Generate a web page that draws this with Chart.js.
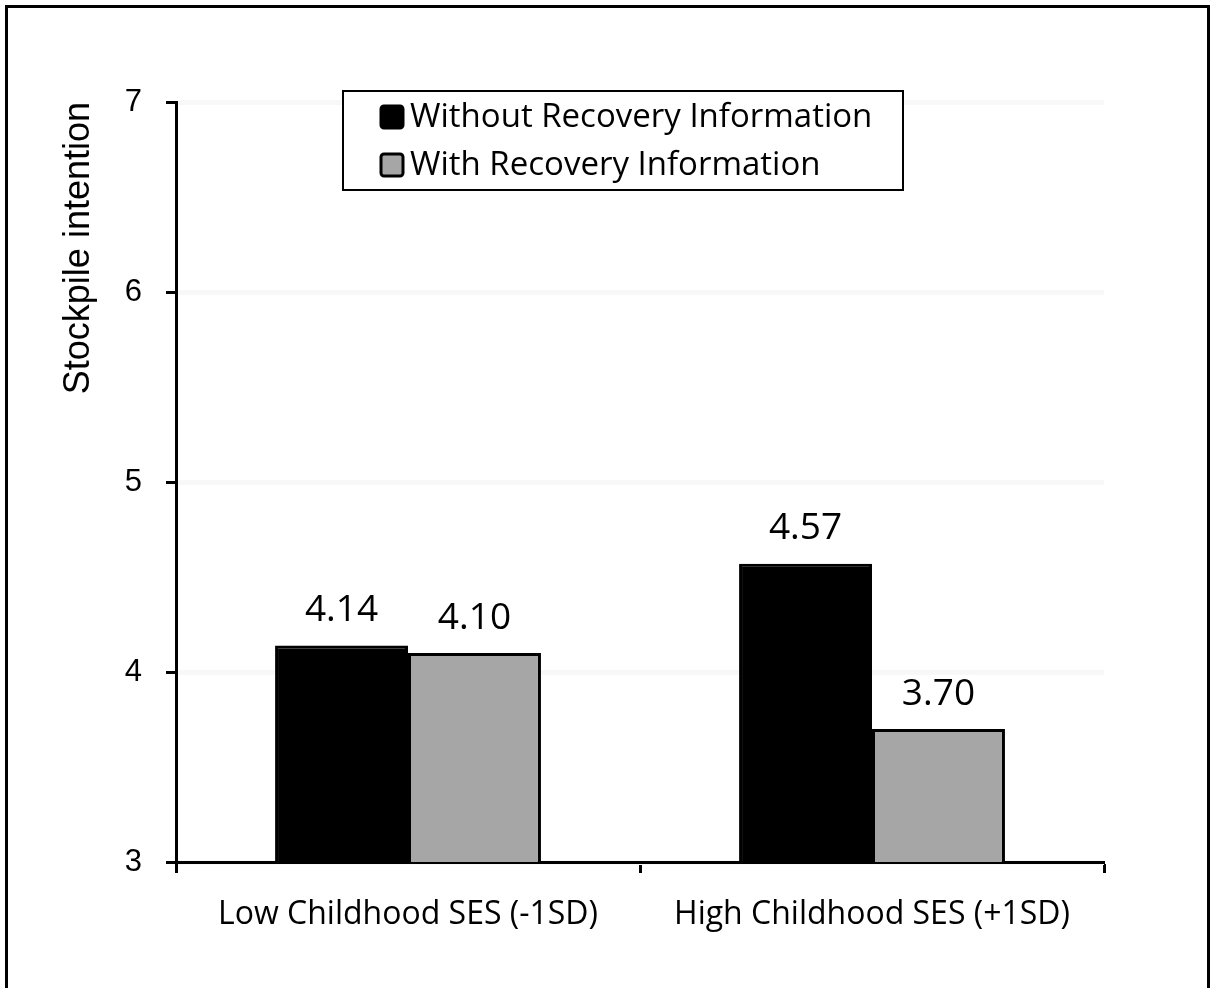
<!DOCTYPE html>
<html>
<head>
<meta charset="utf-8">
<title>Stockpile intention by childhood SES</title>
<script src="https://cdn.jsdelivr.net/npm/chart.js@4.4.1/dist/chart.umd.min.js"></script>
<style>
  html, body { margin: 0; padding: 0; background: #ffffff; }
  #wrap { width: 1210px; height: 988px; position: relative; }
</style>
</head>
<body>
<div id="wrap"><canvas id="chart" width="1210" height="988"></canvas></div>
<script>
// Data
const categories = ['Low Childhood SES (-1SD)', 'High Childhood SES (+1SD)'];
const seriesNames = ['Without Recovery Information', 'With Recovery Information'];
const withoutRecovery = [4.14, 4.57];
const withRecovery = [4.10, 3.70];
const yTickValues = [3, 4, 5, 6, 7];
const yTitle = 'Stockpile intention';

const SANS_C = '"Open Sans", "Noto Sans", sans-serif';
const SANS_A = '"Liberation Sans", Arial, sans-serif';

// Frame around the whole figure (left, top and right edges)
const framePlugin = {
  id: 'frame',
  afterDraw(chart) {
    const ctx = chart.ctx;
    ctx.save();
    ctx.strokeStyle = '#000';
    ctx.lineWidth = 3;
    ctx.beginPath();
    ctx.moveTo(6.5, 990);
    ctx.lineTo(6.5, 6.5);
    ctx.lineTo(1208.5, 6.5);
    ctx.lineTo(1208.5, 990);
    ctx.stroke();
    ctx.restore();
  }
};

// Value labels above each bar
const valueLabelPlugin = {
  id: 'valueLabels',
  afterDatasetsDraw(chart) {
    const ctx = chart.ctx;
    ctx.save();
    ctx.font = '37px ' + SANS_C;
    ctx.fillStyle = '#000';
    ctx.textAlign = 'center';
    ctx.textBaseline = 'middle';
    chart.data.datasets.forEach((ds, i) => {
      const meta = chart.getDatasetMeta(i);
      meta.data.forEach((bar, j) => {
        ctx.fillText(ds.data[j].toFixed(2), bar.x, bar.y - 35);
      });
    });
    ctx.restore();
  }
};

// Boxed legend inside the plot area
const boxLegendPlugin = {
  id: 'boxLegend',
  afterDraw(chart) {
    const ctx = chart.ctx;
    const box = { x: 343, y: 91, w: 560, h: 99 };
    ctx.save();
    ctx.fillStyle = '#fff';
    ctx.fillRect(box.x, box.y, box.w, box.h);
    ctx.strokeStyle = '#000';
    ctx.lineWidth = 2;
    ctx.strokeRect(box.x, box.y, box.w, box.h);
    ctx.font = '33px ' + SANS_C;
    ctx.textBaseline = 'middle';
    ctx.textAlign = 'left';
    const rows = [117, 165];
    chart.data.datasets.forEach((ds, i) => {
      const cy = rows[i];
      const mx = 381, ms = 22;
      ctx.beginPath();
      ctx.roundRect(mx, cy - ms / 2, ms, ms, 3);
      ctx.fillStyle = ds.backgroundColor;
      ctx.fill();
      ctx.lineWidth = 3;
      ctx.strokeStyle = '#000';
      ctx.stroke();
      ctx.fillStyle = '#000';
      ctx.fillText(ds.label, 410, cy + 1);
    });
    ctx.restore();
  }
};

new Chart(document.getElementById('chart'), {
  type: 'bar',
  data: {
    labels: categories,
    datasets: [
      {
        label: seriesNames[0],
        data: withoutRecovery,
        backgroundColor: '#000000',
        borderColor: '#000000',
        borderWidth: 3
      },
      {
        label: seriesNames[1],
        data: withRecovery,
        backgroundColor: '#a6a6a6',
        borderColor: '#000000',
        borderWidth: 3
      }
    ]
  },
  options: {
    responsive: false,
    animation: false,
    devicePixelRatio: 1,
    categoryPercentage: 0.573,
    barPercentage: 1.0,
    layout: { padding: { top: 102, right: 106, left: 0, bottom: 0 } },
    plugins: {
      legend: { display: false },
      tooltip: { enabled: false }
    },
    scales: {
      x: {
        afterFit(scale) { scale.height = 126; },
        grid: {
          offset: true,
          drawOnChartArea: false,
          tickLength: 11,
          tickColor: '#000',
          tickWidth: 3
        },
        border: { color: '#000', width: 3 },
        ticks: {
          color: '#000',
          font: { family: SANS_C, size: 32 },
          padding: 23
        }
      },
      y: {
        min: 3,
        max: 7,
        afterFit(scale) { scale.width = 176; },
        afterBuildTicks(scale) { scale.ticks = yTickValues.map(v => ({ value: v })); },
        grid: {
          color: '#f8f8f8',
          lineWidth: 5,
          tickLength: 10,
          tickColor: '#000',
          tickWidth: 3
        },
        border: { color: '#000', width: 3 },
        ticks: {
          color: '#000',
          font: { family: SANS_A, size: 31 },
          padding: 24
        },
        title: {
          display: true,
          text: yTitle,
          align: 'end',
          color: '#000',
          font: { family: SANS_A, size: 36 },
          padding: { top: 57 }
        }
      }
    }
  },
  plugins: [framePlugin, valueLabelPlugin, boxLegendPlugin]
});
</script>
</body>
</html>
